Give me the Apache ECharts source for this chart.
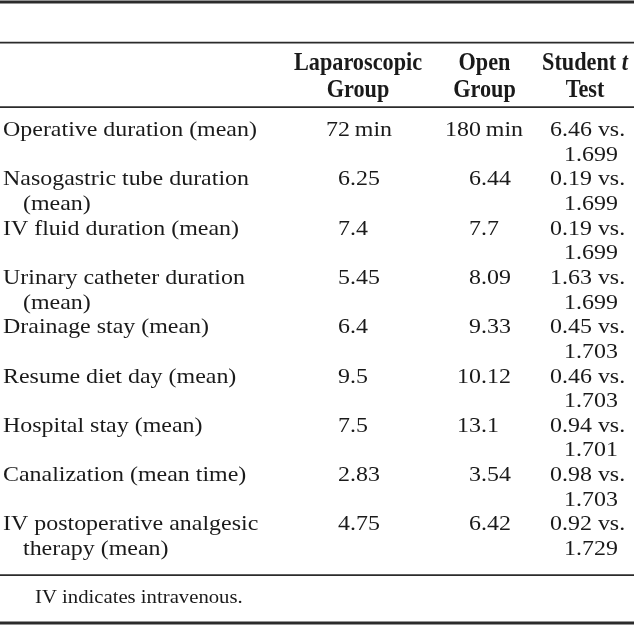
<!DOCTYPE html>
<html>
<head>
<meta charset="utf-8">
<script src="https://cdn.jsdelivr.net/npm/echarts@6/dist/echarts.min.js"></script>
<style>
html,body{margin:0;padding:0;background:#fff;}
#main{width:636px;height:626px;}
</style>
</head>
<body>
<div id="main"></div>
<script>
// ---------- data ----------
const rowLabels = [
  'Operative duration (mean)',
  'Nasogastric tube duration\n(mean)',
  'IV fluid duration (mean)',
  'Urinary catheter duration\n(mean)',
  'Drainage stay (mean)',
  'Resume diet day (mean)',
  'Hospital stay (mean)',
  'Canalization (mean time)',
  'IV postoperative analgesic\ntherapy (mean)'
];
const lapValues  = [72, 6.25, 7.4, 5.45, 6.4, 9.5, 7.5, 2.83, 4.75];
const openValues = [180, 6.44, 7.7, 8.09, 9.33, 10.12, 13.1, 3.54, 6.42];
const valueUnits = ['min', '', '', '', '', '', '', '', ''];
const tValues    = [6.46, 0.19, 0.19, 1.63, 0.45, 0.46, 0.94, 0.98, 0.92];
const tCritical  = [1.699, 1.699, 1.699, 1.699, 1.703, 1.703, 1.701, 1.703, 1.729];
const headerLines = [
  ['Laparoscopic', 'Group'],
  ['Open', 'Group'],
  ['Student {i|t}', 'Test']
];
const footnote = 'IV indicates intravenous.';

// ---------- layout / style ----------
const W = 636, H = 626;
const TEXT = '#1a1a1a';
const RULE = '#2b2b2b';
const FONT = '"Liberation Serif", "Times New Roman", serif';
const BODY_SIZE = 21, SX = 1.14;
const PITCH = 24.65;
const LABEL_X = 3, INDENT = 20;
const LAP_DEC_X = 350, OPEN_DEC_X = 481;
const T_X = 550, T_X2 = 564;
const HEAD_X = [358, 484.5, 585];
const HEAD_Y = [64, 90.5];
const HEAD_SIZE = 25, HEAD_SX = 0.89;
const GRID_TOP = 130.5 - PITCH / 2;
const GRID_BOTTOM = H - (GRID_TOP + rowLabels.length * PITCH * 2);

function txt(x, y, text, align) {
  return {
    type: 'text', x: x, y: y, scaleX: SX, silent: true,
    style: {
      text: text, fill: TEXT, fontSize: BODY_SIZE, fontFamily: FONT,
      align: align, verticalAlign: 'middle', textAlign: align, textVerticalAlign: 'middle'
    }
  };
}
function decimalCell(children, xDec, y, v, unit) {
  const s = String(v);
  const k = s.indexOf('.');
  const intPart = k < 0 ? s : s.slice(0, k);
  const rest = k < 0 ? (unit ? '\u2009' + unit : '') : s.slice(k) + (unit ? '\u2009' + unit : '');
  children.push(txt(xDec, y, intPart, 'right'));
  if (rest) children.push(txt(xDec, y, rest, 'left'));
}

function renderItem(params, api) {
  const i = api.value(1);
  const yc = api.coord([0, i])[1];
  const y1 = yc - PITCH / 2, y2 = yc + PITCH / 2;
  const ch = [];
  const parts = rowLabels[i].split('\n');
  ch.push(txt(api.coord([LABEL_X, i])[0], y1, parts[0], 'left'));
  if (parts[1]) ch.push(txt(api.coord([LABEL_X + INDENT, i])[0], y2, parts[1], 'left'));
  decimalCell(ch, api.coord([LAP_DEC_X, i])[0], y1, lapValues[i], valueUnits[i]);
  decimalCell(ch, api.coord([OPEN_DEC_X, i])[0], y1, openValues[i], valueUnits[i]);
  ch.push(txt(api.coord([T_X, i])[0], y1, tValues[i].toFixed(2) + ' vs.', 'left'));
  ch.push(txt(api.coord([T_X2, i])[0], y2, tCritical[i].toFixed(3), 'left'));
  return { type: 'group', children: ch };
}

function rule(y, h) {
  return { type: 'rect', silent: true, shape: { x: 0, y: y, width: 634, height: h }, style: { fill: RULE } };
}
const graphics = [
  rule(0.5, 3), rule(41.8, 1.7), rule(106.3, 1.7), rule(574.2, 1.7), rule(621.5, 3)
];
headerLines.forEach(function (lines, c) {
  lines.forEach(function (line, r) {
    graphics.push({
      type: 'text', x: HEAD_X[c], y: HEAD_Y[r], scaleX: HEAD_SX, silent: true,
      style: {
        text: line, fill: TEXT, font: 'bold ' + HEAD_SIZE + 'px ' + FONT,
        align: 'center', verticalAlign: 'middle', textAlign: 'center', textVerticalAlign: 'middle',
        rich: { i: { fontStyle: 'italic', fontWeight: 'bold', fontSize: HEAD_SIZE, fontFamily: FONT, fill: TEXT } }
      }
    });
  });
});
graphics.push({
  type: 'text', x: 35, y: 598, scaleX: 1.12, silent: true,
  style: {
    text: footnote, fill: TEXT, font: '18.5px ' + FONT,
    align: 'left', verticalAlign: 'middle', textAlign: 'left', textVerticalAlign: 'middle'
  }
});

const chart = echarts.init(document.getElementById('main'), null, { renderer: 'canvas' });
chart.setOption({
  animation: false,
  backgroundColor: '#fff',
  grid: { left: 0, right: 0, top: GRID_TOP, bottom: GRID_BOTTOM },
  xAxis: { type: 'value', min: 0, max: W, show: false },
  yAxis: { type: 'category', data: rowLabels.map(function (_, i) { return i; }), inverse: true, show: false, boundaryGap: true },
  graphic: graphics,
  series: [{
    type: 'custom',
    renderItem: renderItem,
    clip: false,
    silent: true,
    encode: { x: 0, y: 1 },
    data: rowLabels.map(function (_, i) { return [0, i]; })
  }]
});
</script>
</body>
</html>
